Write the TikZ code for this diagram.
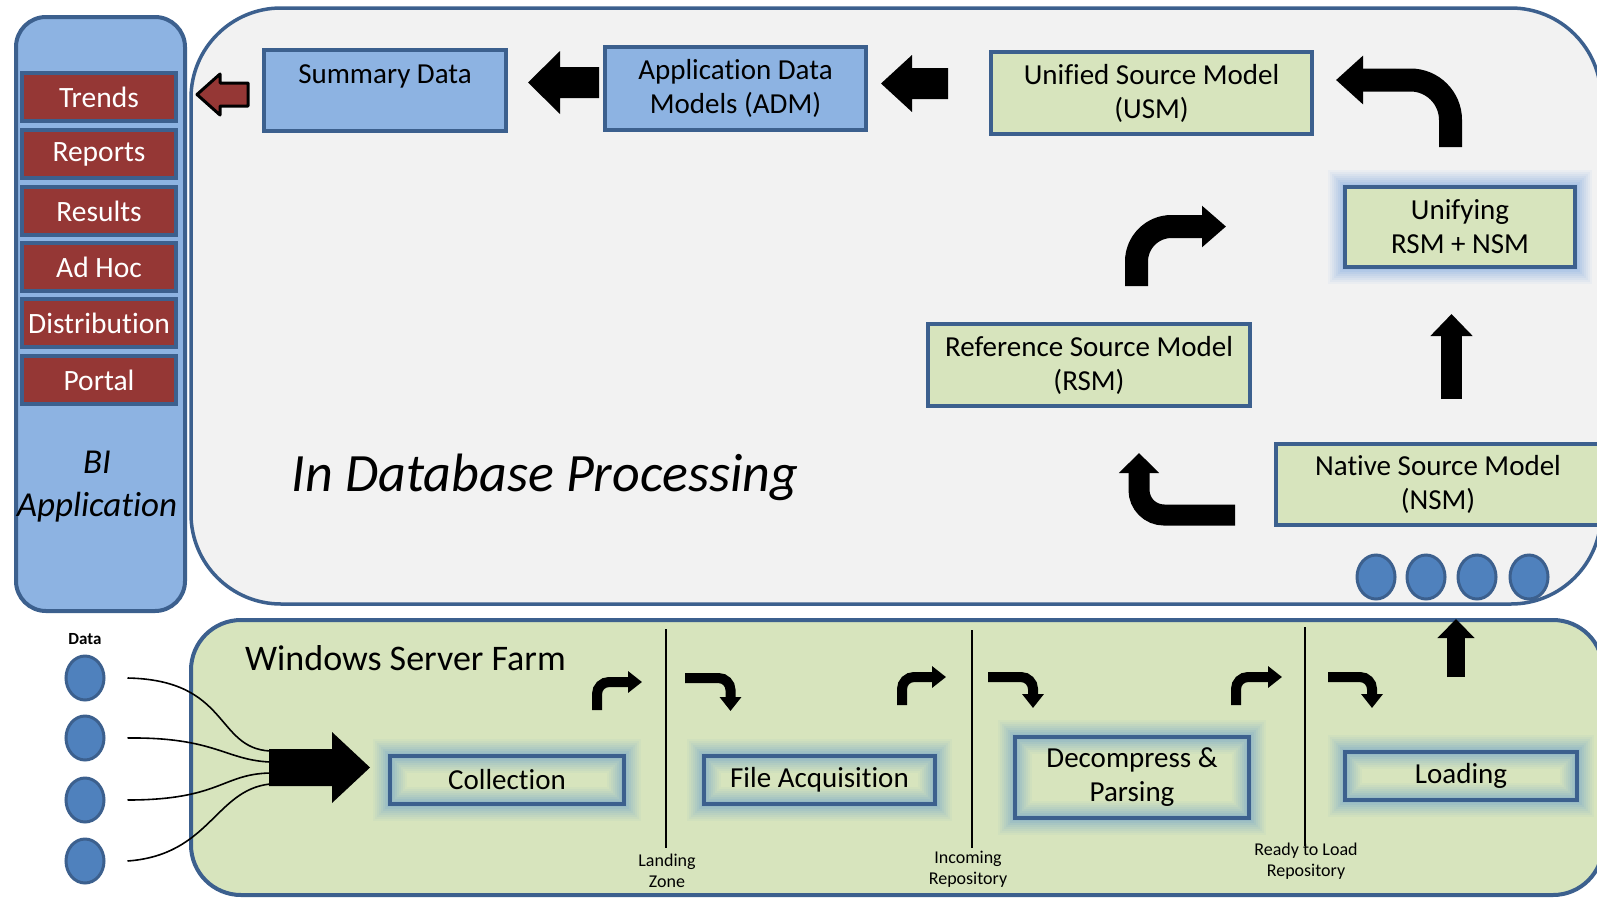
\documentclass[tikz,border=0pt]{standalone}
\usepackage{fontspec}
\setmainfont{Carlito}[Ligatures=NoCommon]
\usetikzlibrary{arrows.meta,shapes.geometric}
\definecolor{bord}{RGB}{60,96,142}
\definecolor{bluef}{RGB}{141,179,226}
\definecolor{redf}{RGB}{149,55,53}
\definecolor{greenf}{RGB}{215,228,189}
\definecolor{grayf}{RGB}{242,242,242}
\definecolor{dotf}{RGB}{79,129,189}
\definecolor{glowc}{RGB}{110,160,205}
\definecolor{glowb}{RGB}{120,165,225}
\tikzset{
  box/.style={draw=bord, line width=4pt, inner sep=0pt, align=center, font=\fontsize{29}{34}\selectfont},
  bluebox/.style={box, fill=bluef},
  greenbox/.style={box, fill=greenf},
  redbox/.style={draw=bord, line width=4pt, fill=redf, text=white, minimum width=154pt, minimum height=48pt, font=\fontsize{29.5}{32}\selectfont, inner sep=0pt},
  glow/.style={preaction={draw=#1, line width=34pt, opacity=0.06},
               preaction={draw=#1, line width=30pt, opacity=0.07},
               preaction={draw=#1, line width=26pt, opacity=0.08},
               preaction={draw=#1, line width=22pt, opacity=0.09},
               preaction={draw=#1, line width=18pt, opacity=0.1},
               preaction={draw=#1, line width=14pt, opacity=0.12},
               preaction={draw=#1, line width=10pt, opacity=0.14},
               preaction={draw=#1, line width=6pt, opacity=0.16}},
  dot/.style={ellipse, draw=bord, line width=3pt, fill=dotf, minimum width=38pt, minimum height=44pt, inner sep=0pt},
  panel/.style={draw=bord, line width=4pt, inner sep=0pt},
  smallturn/.style={line width=10pt, black, rounded corners=12pt, -{Triangle[length=14pt,width=21pt]}},
  wire/.style={line width=1.6pt, black},
  sepline/.style={line width=2pt, black},
  small/.style={font=\fontsize{18}{21}\selectfont, align=center, inner sep=0pt}
}
\begin{document}
\begin{tikzpicture}[x=1pt,y=-1pt]
\useasboundingbox (0,0) rectangle (1597,897);
\fill[white] (0,0) rectangle (1597,897);

% panels
\node[panel, fill=bluef, rounded corners=30pt, minimum width=169pt, minimum height=594pt] (bi) at (100.5,314) {};
\node[panel, line width=3.5pt, fill=grayf, rounded corners=90pt, minimum width=1410pt, minimum height=596pt] (db) at (896,306) {};
\node[panel, fill=greenf, rounded corners=50pt, minimum width=1412pt, minimum height=275pt] (farm) at (897,757.5) {};

% BI items
\node[redbox] (trends) at (99,97) {Trends};
\node[redbox] (reports) at (99,154) {Reports};
\node[redbox] (results) at (99,211) {Results};
\node[redbox] (adhoc) at (99,267) {Ad Hoc};
\node[redbox] (distr) at (99,323) {Distribution};
\node[redbox] (portal) at (99,380) {Portal};
\node[align=center, font=\fontsize{35}{43}\selectfont\itshape, inner sep=0pt] (bilabel) at (97,487) {BI\\Application};

% red arrow
\draw[fill=redf, draw=black, line width=3pt, line join=round] (197,94.5) -- (220,74) -- (220,83) -- (248,83) -- (248,106) -- (220,106) -- (220,115) -- cycle;

% top row
\node[bluebox, minimum width=242pt, minimum height=81pt] (sum) at (385,90.5) {};
\node[anchor=base, inner sep=0pt, font=\fontsize{29}{34}\selectfont] (sumtext) at ([yshift=-35pt]sum.north) {Summary Data};
\node[bluebox, minimum width=261pt, minimum height=83pt] (adm) at (735.5,88.5) {Application Data\\Models (ADM)};
\node[greenbox, minimum width=321pt, minimum height=82pt] (usm) at (1151.5,93) {Unified Source Model\\(USM)};
\node[greenbox, glow=glowb, minimum width=230pt, minimum height=80pt] (unify) at (1460,227) {Unifying\\RSM + NSM};
\node[greenbox, minimum width=322pt, minimum height=82pt] (rsm) at (1089,365) {Reference Source Model\\(RSM)};
\node[greenbox, minimum width=324pt, minimum height=81pt] (nsm) at (1438,484.5) {Native Source Model\\(NSM)};

% block arrows top
\fill (528,82.5) -- (560,51) -- (560,67) -- (599,67) -- (599,98) -- (560,98) -- (560,114) -- cycle;
\fill (881,83.5) -- (912,55) -- (912,68) -- (948,68) -- (948,99) -- (912,99) -- (912,112) -- cycle;

% turn arrows top
\draw[line width=23pt, rounded corners=40pt, -{Triangle[length=27pt,width=47pt]}] (1450.5,147) -- (1450.5,80) -- (1336,80);
\draw[line width=23pt, rounded corners=35pt, -{Triangle[length=24pt,width=40pt]}] (1136.5,286) -- (1136.5,226.5) -- (1226,226.5);
\draw[line width=21pt, rounded corners=25pt, -{Triangle[length=20pt,width=39pt]}] (1235,515) -- (1139,515) -- (1139,453);
\draw[line width=21pt, -{Triangle[length=22pt,width=41pt]}] (1451.5,399) -- (1451.5,314);

\node[font=\fontsize{54}{56}\selectfont\itshape, inner sep=0pt] (idp) at (545,477) {In Database Processing};

% dots top
\node[dot] (c1) at (1376,577) {};
\node[dot] (c2) at (1426,577) {};
\node[dot] (c3) at (1477,577) {};
\node[dot] (c4) at (1529,577) {};

% bottom panel
\node[anchor=base west, inner sep=0pt, font=\fontsize{36}{40}\selectfont] (wsf) at (245,670) {Windows Server Farm};
\node[font=\fontsize{17}{20}\selectfont\bfseries, inner sep=0pt] (datalbl) at (85,639) {Data};
\node[dot] (d1) at (85,678) {};
\node[dot] (d2) at (85,738) {};
\node[dot] (d3) at (85,800) {};
\node[dot] (d4) at (85,861) {};

\fill (269,749) -- (332,749) -- (332,732) -- (370,767.5) -- (332,803) -- (332,786) -- (269,786) -- cycle;
\coordinate (in1) at (270,751);
\coordinate (in2) at (270,762);
\coordinate (in3) at (270,773);
\coordinate (in4) at (270,784);
\draw[wire] ([xshift=22pt]d1.east) .. controls (230,680) and (215,748) .. (in1);
\draw[wire] ([xshift=22pt]d2.east) .. controls (215,737) and (225,760) .. (in2);
\draw[wire] ([xshift=22pt]d3.east) .. controls (220,800) and (222,774) .. (in3);
\draw[wire] ([xshift=22pt]d4.east) .. controls (210,855) and (215,790) .. (in4);

\node[box, glow=glowc, minimum width=234pt, minimum height=48pt] (coll) at (507,780) {Collection};
\node[box, glow=glowc, minimum width=231pt, minimum height=48pt] (facq) at (819.5,780) {File Acquisition};
\node[box, glow=glowc, minimum width=234pt, minimum height=81pt] (decomp) at (1132,777.5) {Decompress \&\\Parsing};
\node[box, glow=glowc, minimum width=232pt, minimum height=48pt] (load) at (1461,776) {Loading};

\draw[sepline] (666,629) -- (666,848);
\draw[sepline] (972,630) -- (972,848);
\draw[sepline] (1305,627) -- (1305,846);
\node[small] (lz) at (667,871) {Landing\\Zone};
\node[small] (ir) at (968,869) {Incoming\\Repository};
\node[small] (rl) at (1306,861) {Ready to Load\\Repository};

\draw[smallturn] (597,710) -- (597,682) -- (642,682);
\draw[smallturn] (902,705) -- (902,677) -- (946,677);
\draw[smallturn] (1236,705) -- (1236,677) -- (1282,677);
\draw[smallturn] (685,678) -- (730.5,678) -- (730.5,711);
\draw[smallturn] (988,677) -- (1033,677) -- (1033,708);
\draw[smallturn] (1328,677) -- (1372,677) -- (1372,708);

\draw[line width=18pt, -{Triangle[length=19pt,width=36pt]}] (1456,677) -- (1456,619);
\end{tikzpicture}
\end{document}
